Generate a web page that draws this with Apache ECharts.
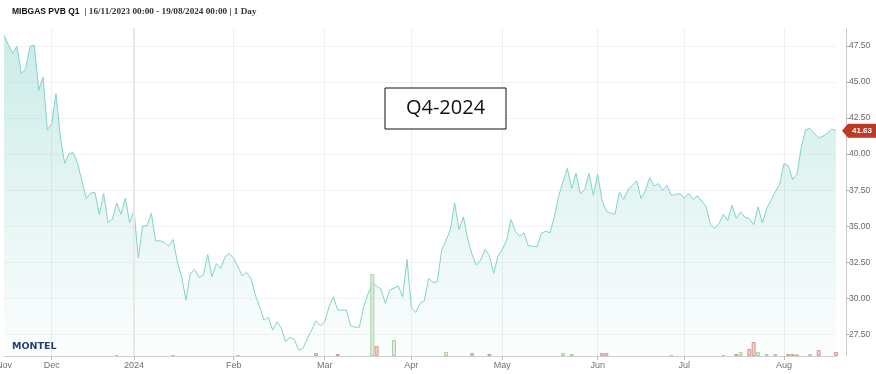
<!DOCTYPE html>
<html><head><meta charset="utf-8">
<script src="https://cdn.jsdelivr.net/npm/echarts@6/dist/echarts.min.js"></script>
<style>html,body{margin:0;padding:0;background:#fff}#c{width:876px;height:374px}</style>
</head><body><div id="c"></div>
<script>
// ---- data ----
const startDate = '2023-11-16';
const endDate = '2024-08-19';
const holidays = ['2023-12-25','2023-12-26','2024-03-29','2024-04-01','2024-05-01'];
const dates = [];
(function(){
  let d = new Date(startDate + 'T00:00:00Z');
  const e = new Date(endDate + 'T00:00:00Z');
  while (d <= e) {
    const wd = d.getUTCDay();
    const s = d.toISOString().slice(0,10);
    if (wd !== 0 && wd !== 6 && holidays.indexOf(s) < 0) dates.push(s);
    d = new Date(d.getTime() + 86400000);
  }
})();

const prices = [
48.24,47.6,47.0,47.48,45.59,45.93,47.48,47.55,44.43,45.35,
41.7,42.12,44.2,41.2,39.36,40.05,40.1,39.36,38.1,36.93,
37.31,37.34,35.82,37.27,35.26,35.49,36.62,35.82,36.93,35.26,
36.11,32.81,35.03,35.03,35.89,33.99,33.99,33.88,33.62,34.08,
32.53,31.49,29.88,31.73,32.0,31.45,31.61,33.04,31.49,32.41,
32.07,32.88,33.11,32.77,32.18,31.56,31.8,31.38,30.22,29.41,
28.49,28.68,27.8,28.37,27.92,26.99,27.29,27.15,26.41,26.53,
27.22,27.8,28.44,28.10,28.37,29.41,30.11,29.18,29.18,29.18,
28.10,28.0,27.99,29.41,30.3,31.03,30.85,30.62,29.65,30.57,
30.7,30.85,30.11,32.70,29.37,29.02,29.65,29.83,31.38,31.10,
31.15,33.34,34.04,34.73,36.62,34.78,35.65,34.15,33.06,32.30,
32.65,33.39,32.99,31.73,32.93,33.39,34.04,35.47,34.66,34.31,
34.54,33.64,33.62,33.57,34.5,34.66,34.54,35.65,37.08,38.08,
39.02,37.62,38.68,37.27,37.55,38.66,37.15,38.61,36.81,36.05,
35.9,35.84,37.38,36.86,37.55,37.85,38.15,36.93,37.45,38.38,
37.78,37.96,37.50,37.83,37.15,37.2,37.27,36.93,37.27,36.86,
37.11,36.75,36.39,35.14,34.85,35.19,35.84,35.38,36.46,35.54,
36.0,35.61,35.54,35.1,36.34,35.23,36.23,36.8,37.4,37.92,
39.35,39.19,38.24,38.61,40.50,41.71,41.78,41.43,41.15,41.24,
41.47,41.73,41.63
];

const volGreen = [
['2023-12-22',1],['2024-01-12',1],['2024-02-02',1],['2024-03-18',82],['2024-03-25',16],
['2024-04-12',4],['2024-05-22',3],['2024-05-24',2],['2024-06-26',1],['2024-07-12',1],
['2024-07-18',4],['2024-07-24',4],['2024-07-26',2],['2024-07-30',2],['2024-08-09',2]
];
const volRed = [
['2024-02-28',3],['2024-03-06',2],['2024-03-19',10],['2024-04-22',3],['2024-04-26',2],
['2024-06-04',3],['2024-06-05',3],['2024-07-17',2],['2024-07-22',7],['2024-07-23',14],
['2024-08-02',2],['2024-08-05',2],['2024-08-06',1.5],['2024-08-13',6],['2024-08-19',4]
];

const yTicks = [27.5,30,32.5,35,37.5,40,42.5,45,47.5];
const monthNames = ['Jan','Feb','Mar','Apr','May','Jun','Jul','Aug','Sep','Oct','Nov','Dec'];
const titleMain = 'MIBGAS PVB Q1';
const titleSub = '| 16/11/2023 00:00 - 19/08/2024 00:00 | 1 Day';
const boxText = 'Q4-2024';
const yearLineDate = '2024-01-01';

// ---- chart ----
function isMonthStart(i){
  if (i === 0) return true;
  return dates[i] && dates[i-1] && dates[i].slice(5,7) !== dates[i-1].slice(5,7);
}
function labelOf(v){
  const m = parseInt(v.slice(5,7),10);
  return m === 1 ? v.slice(0,4) : monthNames[m-1];
}

const chart = echarts.init(document.getElementById('c'), null, {renderer:'canvas'});
const gridLeft = 4, gridRight = 40, gridTop = 28, gridBottom = 18;

chart.setOption({
  animation: false,
  backgroundColor: '#fff',
  title: {
    left: 12, top: 3, padding: 0,
    text: '{b|' + titleMain + '} {s|' + titleSub + '}',
    textStyle: {
      rich: {
        b: {fontWeight:'bold', fontSize:8.5, fontFamily:'Liberation Sans', color:'#111'},
        s: {fontSize:9.2, fontFamily:'Liberation Serif', color:'#333'}
      }
    }
  },
  grid: {left: gridLeft, right: gridRight, top: gridTop, bottom: gridBottom, containLabel:false, outerBoundsMode:'none'},
  xAxis: {
    type: 'category', data: dates, boundaryGap: false,
    axisLine: {lineStyle: {color:'#cfcfcf'}},
    axisTick: {interval: (i)=> i>0 && isMonthStart(i), length: 4, lineStyle:{color:'#bdbdbd'}},
    axisLabel: {interval: (i)=> isMonthStart(i), formatter: labelOf, color:'#707070', fontSize:9, margin:5, fontFamily:'Liberation Sans', showMinLabel:true, hideOverlap:false},
    splitLine: {show:true, interval: (i)=> i>0 && isMonthStart(i), lineStyle:{color:'#efefef', width:1}}
  },
  yAxis: [{
    type: 'value', position: 'right', offset: 10, min: 26, max: 48.75,
    axisLine: {show:true, lineStyle:{color:'#c8c8c8'}},
    axisTick: {show:true, customValues: yTicks, length: 4, lineStyle:{color:'#b8b8b8'}},
    axisLabel: {customValues: yTicks, formatter: (v)=> Number(v).toFixed(2), color:'#666', fontSize:8.5, margin:3, fontFamily:'Liberation Sans'},
    splitLine: {show:true, lineStyle:{color:'#f3f3f3'}}
  },{
    type: 'value', min: 0, max: 328, show: false
  }],
  series: [{
    type: 'line', data: prices, symbol: 'none', z: 2,
    lineStyle: {color:'#80d4c9', width:1},
    areaStyle: {color: new echarts.graphic.LinearGradient(0,0,0,1,[
      {offset:0, color:'rgba(122,206,195,0.55)'},
      {offset:1, color:'rgba(122,206,195,0.03)'}
    ])},
    markLine: {
      silent: true, symbol: 'none', label:{show:false},
      lineStyle: {color:'#e8e8e8', width:2, type:'solid'},
      data: [{xAxis: yearLineDate}]
    }
  },{
    type: 'bar', yAxisIndex: 1, data: volGreen, barWidth: 4, barGap: '-100%', z: 3,
    itemStyle: {color:'rgba(214,234,208,0.75)', borderColor:'#a9cf9f', borderWidth:1}
  },{
    type: 'bar', yAxisIndex: 1, data: volRed, barWidth: 4, barGap: '-100%', z: 3,
    itemStyle: {color:'rgba(242,196,188,0.85)', borderColor:'#d99a8f', borderWidth:1}
  }]
});

const lastIdx = prices.length - 1;
const lastVal = prices[lastIdx];
const py = chart.convertToPixel({xAxisIndex:0, yAxisIndex:0}, [lastIdx, lastVal])[1];
const axisX = 876 - gridRight + 10;

chart.setOption({
  graphic: [
    {type:'text', left: 12, top: 342, style:{text:'MONTEL', fill:'#1d3b6e', font:'bold 9.5px "DejaVu Sans"'}},
    {type:'rect', shape:{x:385, y:88, width:121, height:41}, style:{fill:'#fff', stroke:'#111', lineWidth:1}, z: 10},
    {type:'text', x:445.5, y:108.5, style:{text: boxText, fill:'#111', font:'20px "Open Sans"', align:'center', verticalAlign:'middle'}, z: 11},
    {type:'polygon', shape:{points:[[axisX-4,py],[axisX+2,py-7],[876,py-7],[876,py+7],[axisX+2,py+7]]}, style:{fill:'#bf3a26'}, z: 10},
    {type:'text', x: axisX+16, y: py, style:{text: lastVal.toFixed(2), fill:'#fff', font:'bold 8px "Liberation Sans"', align:'center', verticalAlign:'middle'}, z: 11}
  ]
});
</script>
</body></html>
